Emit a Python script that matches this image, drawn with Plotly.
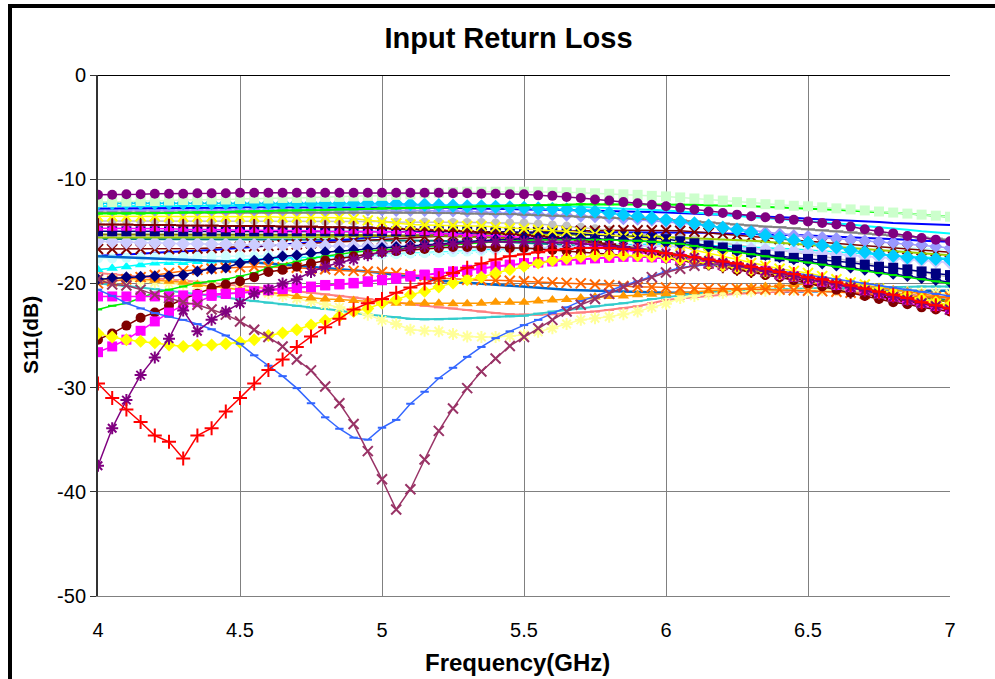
import plotly.graph_objects as go

freq = [4.0, 4.05, 4.1, 4.15, 4.2, 4.25, 4.3, 4.35, 4.4, 4.45,
        4.5, 4.55, 4.6, 4.65, 4.7, 4.75, 4.8, 4.85, 4.9, 4.95,
        5.0, 5.05, 5.1, 5.15, 5.2, 5.25, 5.3, 5.35, 5.4, 5.45,
        5.5, 5.55, 5.6, 5.65, 5.7, 5.75, 5.8, 5.85, 5.9, 5.95,
        6.0, 6.05, 6.1, 6.15, 6.2, 6.25, 6.3, 6.35, 6.4, 6.45,
        6.5, 6.55, 6.6, 6.65, 6.7, 6.75, 6.8, 6.85, 6.9, 6.95,
        7.0]
x_ticks = [4, 4.5, 5, 5.5, 6, 6.5, 7]
x_tick_text = ["4", "4.5", "5", "5.5", "6", "6.5", "7"]
y_ticks = [0, -10, -20, -30, -40, -50]
y_tick_text = ["0", "-10", "-20", "-30", "-40", "-50"]

# ---- upper bundle ----
t_purple_circ = [-11.5,-11.5,-11.45,-11.45,-11.4,-11.4,-11.4,-11.35,-11.35,-11.35,
 -11.3,-11.3,-11.3,-11.3,-11.3,-11.3,-11.3,-11.3,-11.3,-11.3,
 -11.3,-11.3,-11.3,-11.3,-11.3,-11.35,-11.35,-11.4,-11.4,-11.45,
 -11.45,-11.55,-11.6,-11.7,-11.8,-11.95,-12.05,-12.2,-12.3,-12.45,
 -12.6,-12.75,-12.9,-13.1,-13.25,-13.4,-13.55,-13.65,-13.8,-13.9,
 -14.05,-14.2,-14.35,-14.55,-14.8,-15.0,-15.2,-15.45,-15.65,-15.8,
 -15.95]
t_ltgreen_sq = [-12.2,-12.2,-12.15,-12.1,-12.1,-12.05,-12.0,-12.0,-11.95,-11.95,
 -11.9,-11.85,-11.85,-11.8,-11.8,-11.75,-11.7,-11.7,-11.65,-11.6,
 -11.6,-11.5,-11.45,-11.35,-11.3,-11.25,-11.2,-11.2,-11.2,-11.2,
 -11.2,-11.2,-11.25,-11.25,-11.3,-11.35,-11.4,-11.45,-11.5,-11.6,
 -11.65,-11.75,-11.85,-11.95,-12.05,-12.2,-12.3,-12.4,-12.45,-12.55,
 -12.6,-12.7,-12.8,-12.9,-13.0,-13.1,-13.2,-13.3,-13.4,-13.5,
 -13.6]
t_green_line = [-13.3,-13.3,-13.3,-13.3,-13.25,-13.25,-13.2,-13.2,-13.2,-13.15,
 -13.1,-13.1,-13.05,-13.0,-13.0,-12.95,-12.95,-12.9,-12.9,-12.85,
 -12.8,-12.8,-12.75,-12.75,-12.7,-12.7,-12.65,-12.6,-12.6,-12.55,
 -12.5,-12.5,-12.45,-12.45,-12.4,-12.4,-12.4,-12.4,-12.4,-12.4,
 -12.4,-12.45,-12.45,-12.5,-12.5,-12.55,-12.6,-12.65,-12.7,-12.75,
 -12.8,-12.85,-12.9,-13.0,-13.1,-13.15,-13.25,-13.3,-13.4,-13.5,
 -13.6]
t_sky_dia = [-12.3,-12.3,-12.3,-12.3,-12.3,-12.3,-12.3,-12.3,-12.3,-12.3,
 -12.3,-12.3,-12.3,-12.3,-12.3,-12.3,-12.3,-12.3,-12.3,-12.3,
 -12.3,-12.35,-12.4,-12.45,-12.5,-12.55,-12.6,-12.6,-12.65,-12.7,
 -12.75,-12.8,-12.85,-12.9,-13.0,-13.1,-13.25,-13.4,-13.55,-13.7,
 -13.9,-14.05,-14.25,-14.45,-14.65,-14.85,-15.1,-15.4,-15.6,-15.85,
 -16.1,-16.35,-16.55,-16.8,-17.0,-17.2,-17.35,-17.5,-17.6,-17.65,
 -17.7]
t_cyan_line = [-12.6,-12.6,-12.6,-12.6,-12.6,-12.55,-12.55,-12.55,-12.55,-12.55,
 -12.5,-12.5,-12.5,-12.5,-12.5,-12.5,-12.5,-12.5,-12.5,-12.5,
 -12.5,-12.5,-12.45,-12.45,-12.45,-12.45,-12.45,-12.45,-12.45,-12.45,
 -12.45,-12.5,-12.55,-12.6,-12.65,-12.7,-12.75,-12.8,-12.9,-12.95,
 -13.0,-13.1,-13.2,-13.3,-13.4,-13.5,-13.6,-13.7,-13.8,-13.9,
 -14.0,-14.1,-14.25,-14.35,-14.5,-14.6,-14.75,-14.85,-15.0,-15.1,
 -15.2]
t_blue1 = [-12.8,-12.8,-12.8,-12.8,-12.8,-12.75,-12.75,-12.75,-12.75,-12.75,
 -12.7,-12.7,-12.7,-12.7,-12.7,-12.7,-12.7,-12.7,-12.7,-12.7,
 -12.7,-12.7,-12.7,-12.75,-12.75,-12.75,-12.8,-12.8,-12.85,-12.85,
 -12.9,-12.9,-12.95,-12.95,-13.0,-13.0,-13.05,-13.1,-13.1,-13.15,
 -13.2,-13.25,-13.3,-13.35,-13.4,-13.45,-13.5,-13.6,-13.65,-13.7,
 -13.8,-13.85,-13.9,-14.0,-14.05,-14.1,-14.2,-14.25,-14.3,-14.35,
 -14.4]
t_gray_sq = [-13.2,-13.2,-13.2,-13.2,-13.2,-13.2,-13.2,-13.2,-13.2,-13.2,
 -13.2,-13.2,-13.2,-13.2,-13.2,-13.2,-13.2,-13.2,-13.2,-13.2,
 -13.2,-13.2,-13.2,-13.2,-13.25,-13.25,-13.3,-13.3,-13.35,-13.35,
 -13.4,-13.45,-13.5,-13.55,-13.6,-13.65,-13.7,-13.75,-13.8,-13.8,
 -13.85,-13.95,-14.05,-14.15,-14.25,-14.35,-14.45,-14.55,-14.6,-14.7,
 -14.8,-14.9,-15.0,-15.1,-15.2,-15.3,-15.4,-15.5,-15.6,-15.7,
 -15.8]
t_lav_dia = [-12.95,-12.95,-12.95,-12.95,-12.95,-12.95,-12.95,-12.95,-12.95,-12.95,
 -12.95,-12.95,-12.95,-12.95,-12.95,-12.95,-12.95,-12.95,-12.95,-12.95,
 -12.95,-13.0,-13.0,-13.0,-13.05,-13.05,-13.1,-13.15,-13.2,-13.25,
 -13.3,-13.35,-13.4,-13.45,-13.55,-13.6,-13.7,-13.8,-13.85,-13.95,
 -14.05,-14.2,-14.35,-14.5,-14.65,-14.8,-14.95,-15.1,-15.25,-15.4,
 -15.5,-15.6,-15.7,-15.8,-15.9,-16.0,-16.1,-16.2,-16.3,-16.45,
 -16.6]
t_yellow_x = [-13.55,-13.55,-13.55,-13.55,-13.55,-13.6,-13.6,-13.6,-13.6,-13.6,
 -13.6,-13.6,-13.6,-13.65,-13.65,-13.65,-13.65,-13.7,-13.8,-13.95,
 -14.1,-14.25,-14.35,-14.4,-14.45,-14.45,-14.5,-14.5,-14.6,-14.7,
 -14.75,-14.85,-14.95,-15.0,-15.1,-15.25,-15.35,-15.5,-15.65,-15.8,
 -16.0,-16.4,-16.8,-17.1,-17.4,-17.7,-18.05,-18.3,-18.6,-18.8,
 -19.0,-19.3,-19.6,-19.9,-20.1,-20.5,-20.9,-21.3,-21.7,-21.95,
 -22.2]
t_maroon_plus = [-14.35,-14.35,-14.35,-14.4,-14.4,-14.4,-14.45,-14.45,-14.45,-14.5,
 -14.5,-14.5,-14.5,-14.55,-14.55,-14.55,-14.6,-14.6,-14.65,-14.65,
 -14.7,-14.75,-14.8,-14.85,-14.9,-14.95,-15.0,-15.1,-15.15,-15.25,
 -15.35,-15.45,-15.55,-15.7,-15.85,-16.0,-16.25,-16.5,-16.8,-17.1,
 -17.4,-17.65,-17.9,-18.1,-18.35,-18.6,-18.8,-19.0,-19.25,-19.5,
 -19.8,-20.15,-20.5,-20.8,-21.0,-21.25,-21.5,-21.7,-21.95,-22.2,
 -22.35]
t_mag_tri = [-14.7,-14.7,-14.7,-14.75,-14.75,-14.75,-14.8,-14.8,-14.85,-14.85,
 -14.9,-14.9,-14.9,-14.95,-14.95,-14.95,-15.0,-15.0,-15.0,-15.0,
 -15.0,-15.05,-15.1,-15.15,-15.2,-15.25,-15.3,-15.4,-15.45,-15.5,
 -15.6,-15.7,-15.8,-15.95,-16.1,-16.3,-16.5,-16.75,-17.0,-17.2,
 -17.45,-17.6,-17.8,-18.0,-18.2,-18.4,-18.6,-18.8,-19.0,-19.3,
 -19.6,-19.95,-20.3,-20.6,-20.9,-21.35,-21.6,-21.9,-22.15,-22.45,
 -22.75]
t_navy_sq = [-15.0,-15.0,-15.0,-15.0,-15.0,-15.0,-15.0,-15.0,-15.0,-15.0,
 -15.0,-15.0,-15.0,-15.0,-15.0,-15.0,-15.0,-15.0,-15.0,-15.0,
 -15.0,-15.0,-15.0,-15.0,-15.0,-15.0,-15.0,-15.0,-15.05,-15.05,
 -15.1,-15.1,-15.15,-15.2,-15.25,-15.3,-15.4,-15.5,-15.55,-15.65,
 -15.75,-15.95,-16.15,-16.35,-16.55,-16.75,-17.0,-17.25,-17.4,-17.55,
 -17.65,-17.75,-17.85,-18.0,-18.2,-18.4,-18.5,-18.65,-18.85,-19.05,
 -19.2]
t_olive = [-15.3,-15.3,-15.3,-15.3,-15.3,-15.3,-15.3,-15.3,-15.3,-15.3,
 -15.3,-15.3,-15.3,-15.3,-15.3,-15.35,-15.35,-15.35,-15.35,-15.35,
 -15.4,-15.4,-15.4,-15.45,-15.45,-15.5,-15.5,-15.55,-15.6,-15.65,
 -15.7,-15.75,-15.85,-15.95,-16.05,-16.15,-16.3,-16.45,-16.6,-16.8,
 -17.0,-17.25,-17.5,-17.7,-17.95,-18.2,-18.45,-18.7,-18.95,-19.2,
 -19.45,-19.7,-19.95,-20.2,-20.45,-20.7,-20.9,-21.1,-21.35,-21.55,
 -21.8]
t_ygreen = [-15.6,-15.6,-15.6,-15.6,-15.6,-15.6,-15.6,-15.6,-15.6,-15.6,
 -15.6,-15.6,-15.6,-15.6,-15.55,-15.55,-15.55,-15.5,-15.5,-15.5,
 -15.45,-15.45,-15.4,-15.4,-15.4,-15.35,-15.35,-15.3,-15.3,-15.3,
 -15.3,-15.3,-15.3,-15.3,-15.35,-15.35,-15.4,-15.4,-15.45,-15.5,
 -15.55,-15.6,-15.65,-15.7,-15.8,-15.85,-15.9,-16.0,-16.1,-16.2,
 -16.3,-16.4,-16.5,-16.6,-16.7,-16.8,-16.9,-17.0,-17.1,-17.2,
 -17.3]
t_lav2_dia = [-15.95,-16.0,-16.05,-16.1,-16.1,-16.15,-16.2,-16.2,-16.25,-16.25,
 -16.3,-16.3,-16.3,-16.35,-16.35,-16.35,-16.4,-16.4,-16.4,-16.4,
 -16.4,-16.45,-16.45,-16.5,-16.5,-16.55,-16.55,-16.6,-16.6,-16.6,
 -16.6,-16.6,-16.55,-16.55,-16.5,-16.5,-16.45,-16.45,-16.4,-16.4,
 -16.4,-16.45,-16.5,-16.55,-16.6,-16.65,-16.7,-16.75,-16.8,-16.9,
 -17.0,-17.1,-17.2,-17.3,-17.4,-17.5,-17.6,-17.7,-17.8,-17.9,
 -18.0]
t_darkred_x = [-16.7,-16.7,-16.7,-16.7,-16.7,-16.7,-16.65,-16.65,-16.6,-16.55,
 -16.5,-16.45,-16.4,-16.3,-16.25,-16.15,-16.1,-16.0,-15.95,-15.85,
 -15.8,-15.7,-15.65,-15.55,-15.5,-15.4,-15.35,-15.25,-15.2,-15.15,
 -15.1,-15.05,-15.0,-15.0,-14.95,-14.95,-14.9,-14.9,-14.9,-14.9,
 -14.9,-14.95,-15.05,-15.15,-15.25,-15.35,-15.5,-15.6,-15.75,-15.85,
 -16.0,-16.1,-16.2,-16.3,-16.4,-16.5,-16.6,-16.7,-16.8,-16.9,
 -17.0]
t_ltcyan_circ = [-17.6,-17.6,-17.55,-17.55,-17.5,-17.5,-17.5,-17.45,-17.45,-17.4,
 -17.4,-17.4,-17.35,-17.35,-17.3,-17.3,-17.3,-17.3,-17.25,-17.25,
 -17.25,-17.2,-17.15,-17.1,-17.05,-17.0,-16.95,-16.9,-16.85,-16.8,
 -16.8,-16.7,-16.6,-16.5,-16.4,-16.3,-16.2,-16.15,-16.1,-16.05,
 -16.0,-16.0,-16.0,-16.0,-16.05,-16.05,-16.1,-16.1,-16.15,-16.15,
 -16.2,-16.25,-16.3,-16.35,-16.4,-16.45,-16.5,-16.6,-16.65,-16.7,
 -16.8]
t_cyan_tri = [-18.7,-18.55,-18.4,-18.2,-18.05,-18.0,-18.0,-17.9,-17.85,-17.8,
 -17.7,-17.65,-17.6,-17.55,-17.5,-17.45,-17.4,-17.35,-17.3,-17.25,
 -17.2,-17.15,-17.1,-17.05,-17.0,-16.95,-16.9,-16.8,-16.75,-16.7,
 -16.6,-16.55,-16.5,-16.45,-16.4,-16.35,-16.3,-16.3,-16.25,-16.25,
 -16.2,-16.25,-16.3,-16.35,-16.4,-16.45,-16.5,-16.6,-16.65,-16.7,
 -16.8,-16.9,-17.0,-17.1,-17.2,-17.3,-17.35,-17.4,-17.5,-17.55,
 -17.6]
t_blue2 = [-17.35,-17.3,-17.2,-17.15,-17.05,-17.0,-16.95,-16.9,-16.8,-16.7,
 -16.6,-16.5,-16.4,-16.3,-16.2,-16.1,-16.0,-15.9,-15.75,-15.6,
 -15.5,-15.45,-15.4,-15.35,-15.3,-15.3,-15.25,-15.25,-15.2,-15.2,
 -15.2,-15.15,-15.15,-15.15,-15.1,-15.1,-15.1,-15.1,-15.1,-15.1,
 -15.1,-15.1,-15.15,-15.15,-15.2,-15.2,-15.25,-15.3,-15.3,-15.35,
 -15.4,-15.45,-15.5,-15.55,-15.6,-15.7,-15.75,-15.8,-15.9,-15.95,
 -16.0]
t_silver_circ = [-14.0,-14.0,-14.0,-14.0,-14.0,-14.0,-14.0,-14.0,-14.0,-14.0,
 -14.0,-14.0,-14.0,-14.0,-14.0,-14.05,-14.05,-14.05,-14.05,-14.05,
 -14.05,-14.1,-14.1,-14.1,-14.1,-14.15,-14.15,-14.15,-14.2,-14.2,
 -14.2,-14.3,-14.4,-14.5,-14.6,-14.75,-14.9,-15.05,-15.2,-15.35,
 -15.5,-15.65,-15.8,-16.0,-16.15,-16.3,-16.5,-16.65,-16.85,-17.0,
 -17.2,-17.4,-17.6,-17.8,-18.0,-18.25,-18.45,-18.7,-18.95,-19.2,
 -19.4]
t_teal_line = [-15.75,-15.75,-15.75,-15.75,-15.75,-15.75,-15.75,-15.75,-15.75,-15.75,
 -15.75,-15.75,-15.75,-15.8,-15.8,-15.8,-15.8,-15.8,-15.85,-15.85,
 -15.85,-15.85,-15.9,-15.9,-15.9,-15.95,-15.95,-16.0,-16.0,-16.05,
 -16.1,-16.15,-16.2,-16.3,-16.4,-16.5,-16.6,-16.75,-16.9,-17.05,
 -17.2,-17.4,-17.6,-17.85,-18.1,-18.35,-18.6,-18.85,-19.1,-19.35,
 -19.6,-19.85,-20.1,-20.3,-20.5,-20.7,-20.9,-21.1,-21.3,-21.45,
 -21.6]

# ---- middle / lower series ----
steelblue = [-17.4,-17.45,-17.5,-17.55,-17.6,-17.65,-17.7,-17.75,-17.8,-17.85,
 -17.9,-18.0,-18.1,-18.2,-18.3,-18.4,-18.5,-18.6,-18.7,-18.85,
 -19.0,-19.2,-19.4,-19.6,-19.75,-19.85,-19.95,-20.05,-20.15,-20.25,
 -20.3,-20.4,-20.5,-20.6,-20.65,-20.7,-20.75,-20.8,-20.85,-20.9,
 -20.9,-20.9,-20.9,-20.9,-20.9,-20.85,-20.85,-20.8,-20.8,-20.8,
 -20.75,-20.75,-20.7,-20.7,-20.7,-20.7,-20.7,-20.7,-20.7,-20.7,
 -20.7]
salmon = [-19.0,-19.1,-19.2,-19.35,-19.5,-19.6,-19.7,-19.85,-19.95,-20.1,
 -20.2,-20.35,-20.5,-20.6,-20.75,-20.9,-21.05,-21.2,-21.35,-21.5,
 -21.6,-21.8,-22.0,-22.15,-22.3,-22.4,-22.55,-22.7,-22.85,-22.95,
 -23.0,-23.0,-22.95,-22.9,-22.8,-22.7,-22.55,-22.4,-22.2,-21.9,
 -21.6,-21.45,-21.3,-21.2,-21.1,-21.0,-20.9,-20.85,-20.8,-20.75,
 -20.7,-20.7,-20.75,-20.8,-20.85,-20.9,-21.0,-21.1,-21.2,-21.3,
 -21.4]
teal = [-20.0,-20.1,-20.25,-20.4,-20.55,-20.7,-20.85,-21.0,-21.2,-21.35,
 -21.55,-21.7,-21.85,-22.0,-22.15,-22.3,-22.45,-22.6,-22.85,-23.0,
 -23.15,-23.25,-23.4,-23.45,-23.45,-23.4,-23.35,-23.3,-23.2,-23.15,
 -23.1,-22.9,-22.7,-22.55,-22.4,-22.2,-22.05,-21.9,-21.7,-21.5,
 -21.3,-21.15,-21.0,-20.9,-20.8,-20.7,-20.65,-20.6,-20.55,-20.5,
 -20.5,-20.45,-20.45,-20.4,-20.4,-20.4,-20.35,-20.35,-20.3,-20.3,
 -20.3]
ltyellow_star = [-19.5,-19.6,-19.7,-19.8,-19.9,-20.0,-20.1,-20.2,-20.3,-20.4,
 -20.5,-20.7,-20.95,-21.2,-21.45,-21.7,-22.0,-22.3,-22.65,-23.0,
 -23.55,-23.9,-24.45,-24.55,-24.6,-24.85,-25.1,-25.15,-25.15,-25.05,
 -24.95,-24.65,-24.3,-23.9,-23.5,-23.35,-23.2,-22.95,-22.7,-22.3,
 -21.95,-21.4,-21.2,-21.0,-20.9,-20.8,-20.75,-20.7,-20.65,-20.6,
 -20.6,-20.6,-20.65,-20.65,-20.7,-20.75,-20.8,-20.85,-20.9,-20.95,
 -21.0]
orange_tri = [-19.8,-19.5,-19.5,-19.6,-19.7,-19.8,-19.9,-20.1,-20.3,-20.45,
 -20.6,-20.75,-20.9,-21.0,-21.25,-21.4,-21.5,-21.55,-21.65,-21.7,
 -21.8,-21.9,-21.9,-21.9,-21.9,-21.95,-21.95,-21.9,-21.8,-21.8,
 -21.8,-21.7,-21.6,-21.55,-21.4,-21.3,-21.25,-21.2,-21.1,-21.05,
 -21.0,-20.9,-20.8,-20.7,-20.6,-20.5,-20.4,-20.3,-20.2,-20.1,
 -20.05,-20.0,-20.0,-20.1,-20.2,-20.4,-20.6,-20.8,-21.0,-21.2,
 -21.4]
orange_x = [-20.0,-19.8,-19.6,-19.4,-19.2,-19.0,-18.8,-18.7,-18.6,-18.5,
 -18.45,-18.4,-18.4,-18.45,-18.5,-18.6,-18.65,-18.75,-18.8,-18.85,
 -18.9,-19.0,-19.15,-19.3,-19.5,-19.55,-19.65,-19.7,-19.7,-19.75,
 -19.8,-19.85,-19.9,-19.95,-20.0,-20.1,-20.15,-20.25,-20.35,-20.35,
 -20.4,-20.45,-20.5,-20.5,-20.5,-20.5,-20.55,-20.6,-20.6,-20.65,
 -20.7,-20.75,-20.8,-20.9,-21.0,-21.1,-21.2,-21.3,-21.3,-21.3,
 -21.3]
navy_dia = [-19.6,-19.5,-19.4,-19.35,-19.3,-19.3,-19.2,-18.85,-18.6,-18.5,
 -18.05,-17.8,-17.6,-17.4,-17.3,-17.1,-17.0,-16.9,-16.8,-16.7,
 -16.6,-16.5,-16.4,-16.3,-16.2,-16.1,-16.0,-15.9,-15.8,-15.8,
 -15.7,-15.7,-15.7,-15.7,-15.7,-15.7,-15.8,-15.8,-15.9,-16.0,
 -16.1,-16.2,-16.3,-16.5,-16.7,-16.9,-17.1,-17.3,-17.5,-17.7,
 -17.9,-18.1,-18.3,-18.5,-18.7,-18.9,-19.1,-19.3,-19.5,-19.7,
 -19.9]
green = [-22.5,-22.15,-21.9,-21.4,-20.9,-20.6,-20.3,-19.95,-19.8,-19.6,
 -19.3,-19.0,-18.5,-18.2,-17.9,-17.6,-17.4,-17.2,-17.0,-16.9,
 -16.8,-16.7,-16.6,-16.5,-16.4,-16.3,-16.2,-16.1,-16.0,-15.9,
 -15.9,-15.8,-15.8,-15.8,-15.8,-15.8,-15.8,-15.9,-15.9,-16.0,
 -16.1,-16.2,-16.4,-16.6,-16.8,-17.0,-17.2,-17.4,-17.6,-17.8,
 -18.0,-18.2,-18.4,-18.6,-18.8,-19.0,-19.2,-19.4,-19.6,-19.8,
 -20.0]
darkred_circ = [-25.4,-24.8,-24.05,-23.3,-22.8,-22.15,-21.5,-21.0,-20.45,-20.1,
 -19.8,-19.4,-18.9,-18.7,-18.4,-18.1,-17.8,-17.6,-17.4,-17.2,
 -17.0,-16.9,-16.8,-16.7,-16.6,-16.5,-16.5,-16.5,-16.5,-16.6,
 -16.6,-16.7,-16.8,-16.9,-17.0,-17.1,-17.2,-17.3,-17.4,-17.5,
 -17.6,-17.8,-18.0,-18.2,-18.4,-18.7,-18.9,-19.2,-19.4,-19.7,
 -20.0,-20.3,-20.6,-20.9,-21.2,-21.5,-21.8,-22.0,-22.3,-22.5,
 -22.7]
magenta_sq1 = [-26.6,-26.05,-25.4,-24.55,-23.65,-22.8,-22.1,-21.8,-21.2,-21.0,
 -20.95,-20.8,-20.65,-20.55,-20.45,-20.35,-20.2,-20.1,-20.0,-19.85,
 -19.7,-19.55,-19.35,-19.2,-19.05,-18.9,-18.75,-18.6,-18.4,-18.25,
 -18.1,-18.0,-17.9,-17.8,-17.7,-17.6,-17.55,-17.45,-17.45,-17.5,
 -17.55,-17.65,-17.85,-18.05,-18.25,-18.45,-18.65,-18.85,-19.15,-19.35,
 -19.65,-19.85,-20.15,-20.35,-20.65,-20.95,-21.25,-21.55,-21.85,-22.15,
 -22.45]
magenta_sq2 = [-21.25,-21.25,-21.25,-21.25,-21.25,-21.25,-21.15,-21.1,-21.05,-21.0,
 -20.9,-20.75,-20.6,-20.5,-20.4,-20.3,-20.15,-20.05,-19.95,-19.8,
 -19.65,-19.5,-19.3,-19.15,-19.0,-18.85,-18.7,-18.55,-18.35,-18.2,
 -18.05,-17.95,-17.85,-17.75,-17.65,-17.55,-17.5,-17.4,-17.4,-17.45,
 -17.5,-17.6,-17.8,-18.0,-18.2,-18.4,-18.6,-18.8,-19.1,-19.3,
 -19.6,-19.8,-20.1,-20.3,-20.6,-20.9,-21.2,-21.5,-21.8,-22.1,
 -22.4]
yellow_dia = [-24.8,-25.15,-25.4,-25.55,-25.7,-25.9,-26.05,-25.9,-25.9,-25.8,
 -25.65,-25.4,-25.0,-24.75,-24.45,-24.0,-23.55,-23.15,-22.7,-22.4,
 -21.9,-21.55,-21.1,-20.75,-20.35,-19.95,-19.65,-19.4,-19.0,-18.7,
 -18.35,-18.05,-17.8,-17.6,-17.45,-17.35,-17.3,-17.3,-17.35,-17.4,
 -17.5,-17.7,-17.9,-18.1,-18.3,-18.5,-18.7,-18.9,-19.1,-19.3,
 -19.5,-19.7,-19.9,-20.1,-20.3,-20.6,-20.9,-21.2,-21.5,-21.8,
 -22.1]
blue = [-20.6,-21.2,-21.9,-22.4,-22.85,-23.2,-23.5,-23.9,-24.4,-25.0,
 -25.8,-26.9,-27.9,-28.9,-30.05,-31.5,-32.85,-33.95,-34.8,-35.0,
 -33.85,-33.1,-31.55,-30.4,-29.1,-28.1,-27.05,-26.1,-25.25,-24.6,
 -24.0,-23.5,-22.85,-22.3,-21.7,-21.25,-20.75,-20.2,-19.8,-19.3,
 -18.85,-18.5,-18.3,-18.2,-18.2,-18.3,-18.4,-18.6,-18.8,-19.0,
 -19.2,-19.4,-19.6,-19.8,-20.0,-20.2,-20.4,-20.6,-20.8,-21.0,
 -21.2]
mauve_x = [-19.6,-20.1,-20.2,-20.6,-21.1,-21.4,-21.8,-22.05,-22.5,-23.0,
 -23.65,-24.45,-25.15,-26.05,-27.3,-28.35,-29.9,-31.5,-33.5,-36.1,
 -38.8,-41.7,-39.75,-36.9,-34.15,-32.0,-30.05,-28.45,-27.2,-26.0,
 -25.15,-24.3,-23.5,-22.7,-22.05,-21.5,-21.0,-20.35,-19.9,-19.4,
 -18.95,-18.6,-18.3,-18.1,-18.2,-18.4,-18.6,-18.9,-19.1,-19.4,
 -19.6,-19.9,-20.1,-20.4,-20.7,-21.0,-21.3,-21.6,-21.9,-22.2,
 -22.5]
purple_star = [-37.5,-33.9,-31.2,-28.8,-27.1,-25.3,-22.6,-24.6,-23.5,-22.7,
 -21.9,-21.0,-20.6,-20.0,-19.6,-18.9,-18.4,-18.0,-17.7,-17.3,
 -17.0,-16.8,-16.6,-16.4,-16.3,-16.2,-16.1,-16.0,-16.0,-16.0,
 -16.0,-16.0,-16.1,-16.1,-16.2,-16.3,-16.4,-16.5,-16.7,-16.9,
 -17.1,-17.3,-17.5,-17.8,-18.0,-18.3,-18.5,-18.8,-19.0,-19.3,
 -19.6,-19.8,-20.1,-20.4,-20.7,-21.0,-21.3,-21.6,-21.9,-22.2,
 -22.5]
red = [-29.6,-31.0,-32.1,-33.3,-34.6,-35.2,-36.8,-34.6,-33.9,-32.3,
 -31.0,-29.6,-28.3,-27.3,-26.1,-25.1,-24.2,-23.4,-22.5,-21.9,
 -21.5,-20.9,-20.4,-20.0,-19.5,-19.0,-18.5,-18.1,-17.7,-17.4,
 -17.2,-17.0,-16.8,-16.7,-16.6,-16.6,-16.6,-16.7,-16.8,-16.9,
 -17.1,-17.3,-17.5,-17.7,-17.9,-18.1,-18.4,-18.6,-18.9,-19.1,
 -19.4,-19.6,-19.9,-20.2,-20.5,-20.8,-21.1,-21.4,-21.8,-22.1,
 -22.4]

# (name, values, colour, marker symbol, marker size, line width)
series = [
    ("S23", t_teal_line, "#008080", None, 0, 2),
    ("S22", t_silver_circ, "#C0C0C0", "circle", 9, 1.5),
    ("S21", t_blue2, "#0000FF", None, 0, 2),
    ("S20", t_cyan_tri, "#00FFFF", "triangle-up", 10, 1.5),
    ("S19", t_ltcyan_circ, "#CCFFFF", "circle", 10, 1.5),
    ("S18", t_darkred_x, "#800000", "x-thin-open", 10, 1.5),
    ("S17", t_lav2_dia, "#CCCCFF", "diamond", 11, 1.5),
    ("S16", t_ygreen, "#99CC00", None, 0, 2),
    ("S15", t_olive, "#808000", None, 0, 2),
    ("S14", t_navy_sq, "#000080", "square", 10, 1.5),
    ("S13", t_mag_tri, "#FF00FF", "triangle-up", 10, 1.5),
    ("S12", t_maroon_plus, "#800000", "cross-thin-open", 10, 1.5),
    ("S11", t_yellow_x, "#FFFF00", "x-thin-open", 10, 1.5),
    ("S10", t_lav_dia, "#9999FF", "diamond", 10, 1.5),
    ("S9", t_gray_sq, "#808080", "line-ew-open", 10, 1.5),
    ("S8", t_blue1, "#0000FF", None, 0, 2),
    ("S7", t_cyan_line, "#00FFFF", None, 0, 2),
    ("S6", t_sky_dia, "#00CCFF", "diamond", 11, 1.5),
    ("S5", t_green_line, "#00FF00", "line-ew-open", 7, 2),
    ("S4", t_ltgreen_sq, "#CCFFCC", "square", 10, 1.5),
    ("S3", t_purple_circ, "#800080", "circle", 10, 1.5),
    ("M1", steelblue, "#0066CC", None, 0, 2.5),
    ("M2", salmon, "#FF8080", "line-ew-open", 7, 2),
    ("M3", teal, "#33CCCC", "line-ew-open", 7, 2),
    ("M4", ltyellow_star, "#FFFF99", "asterisk-open", 10, 1.5),
    ("M5", orange_tri, "#FF9900", "triangle-up", 10, 1.5),
    ("M6", orange_x, "#FF6600", "x-thin-open", 10, 1.5),
    ("M7", navy_dia, "#000080", "diamond", 9, 1.5),
    ("M8", green, "#00EE00", "line-ew-open", 6, 1.5),
    ("M9", darkred_circ, "#800000", "circle", 10, 1.5),
    ("M10", magenta_sq1, "#FF00FF", "square", 10, 1.5),
    ("M11", magenta_sq2, "#FF00FF", "square", 10, 1.5),
    ("M12", yellow_dia, "#FFFF00", "diamond", 10, 1.5),
    ("M13", blue, "#3366FF", "line-ew-open", 6, 1.5),
    ("M14", mauve_x, "#993366", "x-thin-open", 10, 1.5),
    ("M15", purple_star, "#800080", "asterisk-open", 10, 1.5),
    ("M16", red, "#FF0000", "cross-thin-open", 10, 1.5),
]

for nm, ys, *_ in series:
    assert len(ys) == len(freq), f"{nm}: {len(ys)}"

fig = go.Figure()
for nm, ys, col, sym, sz, lw in series:
    if sym is None:
        fig.add_trace(go.Scatter(x=freq, y=ys, mode="lines", name=nm,
                                 line=dict(color=col, width=lw)))
    else:
        open_sym = sym.endswith("-open")
        fig.add_trace(go.Scatter(
            x=freq, y=ys, mode="lines+markers", name=nm,
            line=dict(color=col, width=lw),
            marker=dict(symbol=sym, size=sz, color=col,
                        line=dict(color=col, width=(2 if open_sym else 0)))))

font_family = "Arial, Liberation Sans, sans-serif"
L, R, T, B = 98, 950, 75, 596
PW, PH = R - L, B - T
fig.update_layout(
    width=995, height=679,
    paper_bgcolor="white", plot_bgcolor="white",
    margin=dict(l=L, r=995 - R, t=T, b=679 - B),
    showlegend=False,
    font=dict(family=font_family, color="black"),
    title=dict(text="<b>Input Return Loss</b>", x=(508.5 - L) / PW, xref="paper", xanchor="center",
               y=1 - 38 / 679, yref="container", yanchor="middle",
               font=dict(size=29, family=font_family, color="black")),
    xaxis=dict(range=[4, 7], tickvals=x_ticks, ticktext=x_tick_text,
               showgrid=True, gridcolor="#808080", gridwidth=1,
               showline=True, linecolor="#808080", linewidth=1,
               ticks="", ticklabelstandoff=16, zeroline=False,
               tickfont=dict(size=20, family=font_family, color="black")),
    yaxis=dict(range=[-50, 0], tickvals=y_ticks, ticktext=y_tick_text,
               showgrid=True, gridcolor="#808080", gridwidth=1,
               showline=True, linecolor="#333333", linewidth=2,
               ticks="outside", ticklen=6, tickcolor="#333333",
               zeroline=True, zerolinecolor="black", zerolinewidth=1,
               tickfont=dict(size=20, family=font_family, color="black")),
    annotations=[
        dict(text="<b>S11(dB)</b>", x=(30 - L) / PW, y=(B - 335) / PH,
             xref="paper", yref="paper", showarrow=False, textangle=-90,
             xanchor="center", yanchor="middle",
             font=dict(size=21, family=font_family, color="black")),
        dict(text="<b>Frequency(GHz)</b>", x=(517 - L) / PW, y=(B - 662) / PH,
             xref="paper", yref="paper", showarrow=False,
             xanchor="center", yanchor="middle",
             font=dict(size=24, family=font_family, color="black")),
    ],
    shapes=[
        dict(type="rect", xref="paper", yref="paper",
             x0=(10 - L) / PW, y0=(B - 6) / PH,
             x1=(1010 - L) / PW, y1=(B - 700) / PH,
             line=dict(color="black", width=4), fillcolor="rgba(0,0,0,0)", layer="above"),
    ],
)

fig.write_html("out.html", config={"displayModeBar": False},
               post_script="document.body.style.margin='0px';document.body.style.overflow='hidden';")
